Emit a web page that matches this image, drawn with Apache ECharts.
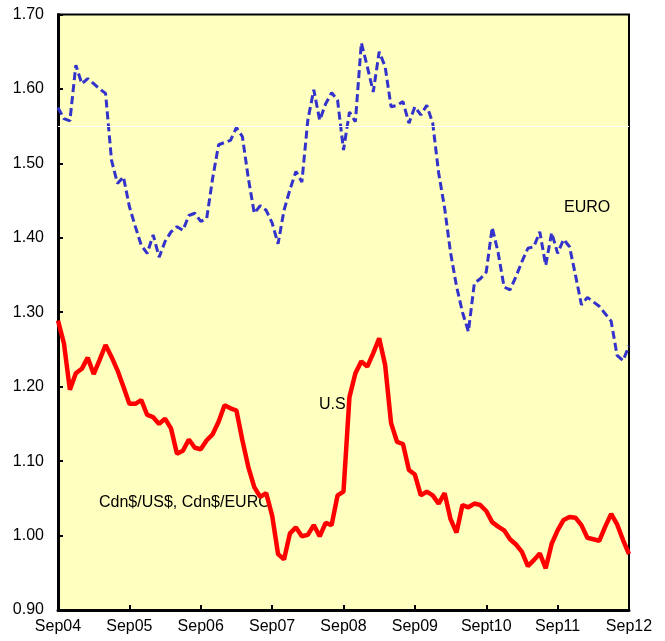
<!DOCTYPE html>
<html>
<head>
<meta charset="utf-8">
<script src="https://cdn.jsdelivr.net/npm/echarts@6/dist/echarts.min.js"></script>
<style>
  html, body { margin: 0; padding: 0; background: #fff; }
  #chart { width: 665px; height: 641px; }
</style>
</head>
<body>
<div id="chart"></div>
<script>
// tick labels, one every 12 months starting Sep 2004
var tickLabels = ['Sep04', 'Sep05', 'Sep06', 'Sep07', 'Sep08', 'Sep09', 'Sept10', 'Sep11', 'Sep12']

// monthly values, Sep04 .. Sep12 (97 points)
var euro = [
  1.575, 1.560, 1.557, 1.632, 1.607, 1.614, 1.607, 1.600, 1.594, 1.504, 1.473, 1.482,
  1.442, 1.415, 1.390, 1.379, 1.404, 1.374, 1.395, 1.408, 1.415, 1.410, 1.430, 1.433,
  1.422, 1.426, 1.480, 1.525, 1.528, 1.531, 1.548, 1.536, 1.480, 1.433, 1.443, 1.437,
  1.420, 1.392, 1.437, 1.465, 1.489, 1.475, 1.558, 1.599, 1.558, 1.580, 1.595, 1.585,
  1.518, 1.569, 1.556, 1.662, 1.630, 1.596, 1.650, 1.630, 1.576, 1.578, 1.583, 1.554,
  1.576, 1.565, 1.578, 1.554, 1.487, 1.440, 1.380, 1.335, 1.300, 1.274, 1.339, 1.345,
  1.354, 1.414, 1.380, 1.334, 1.330, 1.348, 1.368, 1.386, 1.388, 1.408, 1.363, 1.407,
  1.379, 1.398, 1.388, 1.350, 1.310, 1.320, 1.314, 1.308, 1.298, 1.288, 1.242, 1.235,
  1.255
]
var us = [
  1.289, 1.258, 1.196, 1.218, 1.224, 1.239, 1.217, 1.236, 1.256, 1.240, 1.222, 1.200,
  1.177, 1.177, 1.182, 1.162, 1.159, 1.150, 1.157, 1.144, 1.110, 1.114, 1.129, 1.118,
  1.116, 1.128, 1.136, 1.153, 1.175, 1.171, 1.168, 1.128, 1.092, 1.065, 1.052, 1.057,
  1.027, 0.975, 0.968, 1.003, 1.011, 0.999, 1.001, 1.014, 0.999, 1.017, 1.014, 1.054,
  1.059, 1.186, 1.218, 1.234, 1.227, 1.245, 1.265, 1.229, 1.151, 1.126, 1.123, 1.088,
  1.082, 1.054, 1.059, 1.054, 1.043, 1.057, 1.022, 1.004, 1.041, 1.038, 1.043, 1.041,
  1.033, 1.018, 1.012, 1.007, 0.995, 0.988, 0.978, 0.959, 0.967, 0.976, 0.956, 0.989,
  1.007, 1.021, 1.025, 1.024, 1.014, 0.997, 0.995, 0.993, 1.012, 1.029, 1.015, 0.994,
  0.975
]
// stray white rule across the plot
var whiteRule = 1.555

function pairs(arr) {
  return arr.map(function(v, i) { return [i, v] })
}

var font = 'Liberation Sans, Arial, sans-serif'
var chart = echarts.init(document.getElementById('chart'))
chart.setOption({
  animation: false,
  grid: {
    left: 58,
    right: 36,
    top: 14.5,
    bottom: 31,
    show: true,
    backgroundColor: '#FFFFC0',
    borderColor: '#000',
    borderWidth: 2
  },
  xAxis: {
    type: 'value',
    min: 0,
    max: 96,
    interval: 12,
    axisLine: { lineStyle: { color: '#000', width: 3 } },
    axisTick: { inside: true, length: 5, lineStyle: { color: '#000', width: 2 } },
    axisLabel: {
      color: '#000',
      fontFamily: font,
      fontSize: 16,
      margin: 9,
      formatter: function(v) { return tickLabels[v / 12] }
    },
    splitLine: { show: false }
  },
  yAxis: {
    type: 'value',
    min: 0.9,
    max: 1.7,
    interval: 0.1,
    axisLine: { show: true, lineStyle: { color: '#000', width: 3 } },
    axisTick: { show: true, inside: true, length: 5, lineStyle: { color: '#000', width: 2 } },
    axisLabel: {
      color: '#000',
      fontFamily: font,
      fontSize: 16,
      margin: 14,
      formatter: function(v) { return v.toFixed(2) }
    },
    splitLine: { show: false }
  },
  series: [
    {
      name: 'EURO',
      type: 'line',
      data: pairs(euro),
      showSymbol: false,
      lineStyle: { color: '#3333CC', width: 3, type: [8, 4] },
      markLine: {
        silent: true,
        symbol: 'none',
        label: { show: false },
        lineStyle: { color: '#fff', width: 1, type: 'solid' },
        data: [{ yAxis: whiteRule }]
      },
      z: 3
    },
    {
      name: 'U.S.',
      type: 'line',
      data: pairs(us),
      showSymbol: false,
      lineStyle: { color: '#FF0000', width: 4.5 },
      z: 4
    }
  ],
  graphic: [
    { type: 'text', left: 564, top: 200, style: { text: 'EURO', fill: '#000', font: '16px ' + font } },
    { type: 'text', left: 319, top: 397, style: { text: 'U.S.', fill: '#000', font: '16px ' + font } },
    { type: 'text', left: 99, top: 495, style: { text: 'Cdn$/US$, Cdn$/EURO', fill: '#000', font: '16px ' + font } }
  ]
})
</script>
</body>
</html>
